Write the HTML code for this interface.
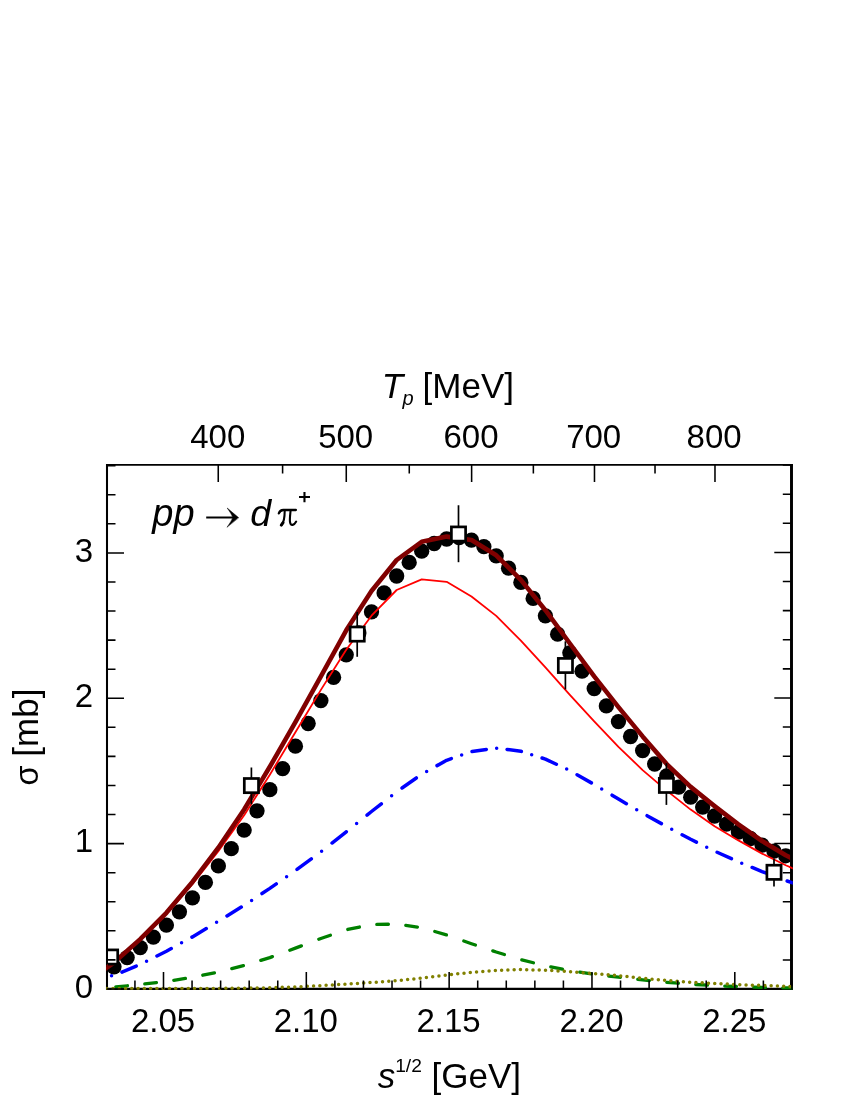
<!DOCTYPE html>
<html><head><meta charset="utf-8"><title>chart</title><style>html,body{margin:0;padding:0;background:#fff}svg{display:block}</style></head><body>
<svg width="850" height="1100" viewBox="0 0 850 1100">
<rect width="850" height="1100" fill="#fff"/>
<defs><clipPath id="c1"><rect x="106.2" y="430" width="684.1999999999999" height="559.2"/></clipPath><clipPath id="c2"><rect x="106.2" y="430" width="686.5999999999999" height="559.8"/></clipPath><clipPath id="c3"><rect x="108.0" y="430" width="682.3" height="559"/></clipPath></defs>
<path d="M107.0,464.0V990.0" stroke="#000" stroke-width="2.05" fill="none"/><path d="M791.5,464.0V990.0" stroke="#000" stroke-width="2.65" fill="none"/><path d="M106.0,464.9H792.7" stroke="#000" stroke-width="1.8" fill="none"/><path d="M106.0,988.9H792.7" stroke="#000" stroke-width="2.2" fill="none"/>
<path d="M791.5,989.13h-17.2M791.5,960.02h-8.7M791.5,930.90h-8.7M791.5,901.79h-8.7M791.5,872.67h-8.7M791.5,843.55h-17.2M791.5,814.44h-8.7M791.5,785.32h-8.7M791.5,756.21h-8.7M791.5,727.09h-8.7M791.5,697.98h-17.2M791.5,668.86h-8.7M791.5,639.75h-8.7M791.5,610.63h-8.7M791.5,581.52h-8.7M791.5,552.40h-17.2M791.5,523.29h-8.7M791.5,494.17h-8.7M791.5,465.05h-8.7M218.25,464.9v17M282.60,464.9v8.5M346.27,464.9v17M409.27,464.9v8.5M471.63,464.9v17M533.36,464.9v8.5M594.48,464.9v17M655.02,464.9v8.5M714.98,464.9v17" stroke="#000" stroke-width="1.55" fill="none"/>
<g clip-path="url(#c1)" fill="none" stroke-linejoin="round">
<g fill="#000" stroke="none">
<circle cx="113.99" cy="966.80" r="7.65"/>
<circle cx="127.14" cy="957.60" r="7.65"/>
<circle cx="140.26" cy="947.60" r="7.65"/>
<circle cx="153.34" cy="937.10" r="7.65"/>
<circle cx="166.40" cy="925.10" r="7.65"/>
<circle cx="179.43" cy="911.80" r="7.65"/>
<circle cx="192.43" cy="897.80" r="7.65"/>
<circle cx="205.40" cy="882.40" r="7.65"/>
<circle cx="218.35" cy="865.90" r="7.65"/>
<circle cx="231.26" cy="848.70" r="7.65"/>
<circle cx="244.15" cy="830.10" r="7.65"/>
<circle cx="257.00" cy="810.80" r="7.65"/>
<circle cx="269.83" cy="789.70" r="7.65"/>
<circle cx="282.64" cy="768.60" r="7.65"/>
<circle cx="295.41" cy="746.20" r="7.65"/>
<circle cx="308.16" cy="723.50" r="7.65"/>
<circle cx="320.88" cy="700.60" r="7.65"/>
<circle cx="333.58" cy="677.40" r="7.65"/>
<circle cx="346.24" cy="654.80" r="7.65"/>
<circle cx="358.88" cy="633.00" r="7.65"/>
<circle cx="371.50" cy="611.80" r="7.65"/>
<circle cx="384.08" cy="592.90" r="7.65"/>
<circle cx="396.65" cy="576.00" r="7.65"/>
<circle cx="409.18" cy="562.40" r="7.65"/>
<circle cx="421.69" cy="551.20" r="7.65"/>
<circle cx="434.18" cy="543.50" r="7.65"/>
<circle cx="446.63" cy="539.00" r="7.65"/>
<circle cx="459.07" cy="537.50" r="7.65"/>
<circle cx="471.48" cy="540.20" r="7.65"/>
<circle cx="483.86" cy="546.60" r="7.65"/>
<circle cx="496.22" cy="555.80" r="7.65"/>
<circle cx="508.55" cy="568.20" r="7.65"/>
<circle cx="520.86" cy="582.40" r="7.65"/>
<circle cx="533.14" cy="598.40" r="7.65"/>
<circle cx="545.41" cy="615.80" r="7.65"/>
<circle cx="557.64" cy="634.20" r="7.65"/>
<circle cx="569.85" cy="652.80" r="7.65"/>
<circle cx="582.04" cy="671.20" r="7.65"/>
<circle cx="594.21" cy="688.60" r="7.65"/>
<circle cx="606.35" cy="705.90" r="7.65"/>
<circle cx="618.46" cy="721.60" r="7.65"/>
<circle cx="630.56" cy="736.50" r="7.65"/>
<circle cx="642.63" cy="750.60" r="7.65"/>
<circle cx="654.68" cy="764.00" r="7.65"/>
<circle cx="666.70" cy="776.00" r="7.65"/>
<circle cx="678.70" cy="787.10" r="7.65"/>
<circle cx="690.68" cy="797.20" r="7.65"/>
<circle cx="702.64" cy="807.10" r="7.65"/>
<circle cx="714.58" cy="816.00" r="7.65"/>
<circle cx="726.49" cy="824.20" r="7.65"/>
<circle cx="738.38" cy="832.00" r="7.65"/>
<circle cx="750.25" cy="838.50" r="7.65"/>
<circle cx="762.09" cy="845.20" r="7.65"/>
<circle cx="773.92" cy="851.20" r="7.65"/>
<circle cx="785.72" cy="855.80" r="7.65"/>
</g>
<path d="M87.61,981.30L113.99,963.10L140.26,940.00L166.40,914.00L192.43,884.10L218.35,851.30L244.15,815.30L269.83,774.70L295.41,732.30L320.88,689.90L346.24,649.70L371.50,615.70L396.65,590.00L421.69,579.40L446.63,581.80L471.48,596.50L496.22,615.90L520.86,640.60L545.41,667.30L569.85,694.80L594.21,721.30L618.46,746.80L642.63,770.10L666.70,790.60L690.68,809.60L714.58,826.30L738.38,840.40L762.09,853.60L785.72,865.20L809.26,875.60" stroke="#ff0000" stroke-width="1.8"/>
<path d="M87.61,981.00L113.99,962.50L140.26,939.10L166.40,912.80L192.43,881.90L218.35,847.70L244.15,809.50L269.83,766.80L295.41,722.10L320.88,676.40L346.24,630.30L371.50,591.00L396.65,560.00L421.69,541.80L446.63,536.60L471.48,540.00L496.22,555.30L520.86,579.90L545.41,610.20L569.85,643.50L594.21,676.40L618.46,707.10L642.63,736.40L666.70,764.10L690.68,786.90L714.58,806.10L738.38,824.40L762.09,841.00L785.72,855.30L809.26,867.00" stroke="#800000" stroke-width="4.6"/>
</g>
<path d="M791.5,464.0V990.0" stroke="#000" stroke-width="2.65" fill="none"/>
<g clip-path="url(#c2)" fill="none" stroke-linejoin="round">
<path d="M789.50,866.87L795.00,869.30" stroke="#ff0000" stroke-width="1.8"/>
<path d="M86.80,988.90L87.61,988.90L98.40,988.16M115.80,986.92L127.40,985.77M144.80,983.96L156.40,982.59M173.80,980.26L185.40,978.48M202.80,975.24L214.40,972.82M231.80,968.56L243.40,965.59M260.80,960.34L269.83,957.60L272.40,956.65M289.80,950.18L295.41,948.10L301.40,945.84M318.80,939.28L320.88,938.50L330.40,935.23M347.80,929.47L359.40,927.04M376.80,924.42L388.40,924.23M405.80,925.42L417.40,927.08M434.80,931.54L446.40,934.93M463.80,941.01L471.48,943.70L475.40,945.02M492.80,950.85L496.22,952.00L504.40,954.52M521.80,959.84L533.40,962.77M550.80,966.86L562.40,969.14M579.80,972.11L591.40,973.87M608.80,976.04L618.46,977.20L620.40,977.42M637.80,979.36L642.63,979.90L649.40,980.57M666.80,982.31L678.40,983.23M695.80,984.50L707.40,985.18M724.80,986.03L736.40,986.52M753.80,987.12L762.09,987.40L765.40,987.47M782.80,987.84L785.72,987.90L794.40,987.97" stroke="#008000" stroke-width="3.3" stroke-linecap="round"/>
<path d="M106.73,988.60h0.01M113.00,988.60h0.01M119.27,988.60h0.01M125.54,988.60h0.01M131.80,988.60h0.01M138.07,988.60h0.01M144.34,988.58h0.01M150.61,988.56h0.01M156.88,988.54h0.01M163.14,988.51h0.01M169.41,988.50h0.01M175.68,988.50h0.01M181.95,988.50h0.01M188.22,988.50h0.01M194.48,988.49h0.01M200.75,988.47h0.01M207.02,988.44h0.01M213.29,988.42h0.01M219.56,988.39h0.01M225.82,988.34h0.01M232.09,988.29h0.01M238.36,988.24h0.01M244.63,988.19h0.01M250.90,988.09h0.01M257.16,988.00h0.01M263.43,987.90h0.01M269.70,987.80h0.01M275.97,987.58h0.01M282.24,987.36h0.01M288.50,987.14h0.01M294.77,986.92h0.01M301.04,986.63h0.01M307.31,986.34h0.01M313.58,986.04h0.01M319.84,985.75h0.01M326.11,985.37h0.01M332.38,984.97h0.01M338.65,984.58h0.01M344.92,984.18h0.01M351.18,983.79h0.01M357.45,983.39h0.01M363.72,982.99h0.01M369.99,982.60h0.01M376.26,982.16h0.01M382.52,981.71h0.01M388.79,981.26h0.01M395.06,980.81h0.01M401.33,980.21h0.01M407.60,979.56h0.01M413.86,978.91h0.01M420.13,978.26h0.01M426.40,977.53h0.01M432.67,976.78h0.01M438.94,976.03h0.01M445.20,975.27h0.01M451.47,974.55h0.01M457.74,973.85h0.01M464.01,973.14h0.01M470.28,972.44h0.01M476.54,971.93h0.01M482.81,971.48h0.01M489.08,971.02h0.01M495.35,970.56h0.01M501.62,970.30h0.01M507.88,970.07h0.01M514.15,969.84h0.01M520.42,969.62h0.01M526.69,969.74h0.01M532.96,969.90h0.01M539.22,970.05h0.01M545.49,970.21h0.01M551.76,970.59h0.01M558.03,970.97h0.01M564.30,971.36h0.01M570.56,971.76h0.01M576.83,972.27h0.01M583.10,972.79h0.01M589.37,973.30h0.01M595.64,973.82h0.01M601.90,974.33h0.01M608.17,974.85h0.01M614.44,975.37h0.01M620.71,975.94h0.01M626.98,976.62h0.01M633.24,977.29h0.01M639.51,977.96h0.01M645.78,978.59h0.01M652.05,979.16h0.01M658.32,979.73h0.01M664.58,980.31h0.01M670.85,980.79h0.01M677.12,981.24h0.01M683.39,981.68h0.01M689.66,982.13h0.01M695.92,982.49h0.01M702.19,982.83h0.01M708.46,983.17h0.01M714.73,983.51h0.01M721.00,983.80h0.01M727.26,984.09h0.01M733.53,984.38h0.01M739.80,984.65h0.01M746.07,984.89h0.01M752.34,985.13h0.01M758.60,985.37h0.01M764.87,985.61h0.01M771.14,985.84h0.01M777.41,986.08h0.01M783.68,986.32h0.01M789.94,986.51h0.01M796.21,986.67h0.01" stroke="#808000" stroke-width="3.5" stroke-linecap="round"/>
<path d="M76.54,978.70h0.01M86.94,978.70L87.61,978.70L101.24,976.99M111.55,975.71h0.01M121.95,972.07L136.25,966.08M146.56,961.22h0.01M156.96,955.97L166.40,951.20L171.26,948.53M181.57,942.87h0.01M191.97,937.15L192.43,936.90L206.27,928.57M216.58,922.36h0.01M226.98,915.95L241.28,907.08M251.59,900.40h0.01M261.99,893.56L269.83,888.40L276.29,883.91M286.60,876.73h0.01M297.00,869.43L311.30,858.87M321.61,851.23h0.01M332.01,843.02L346.24,831.80L346.31,831.75M356.62,823.46h0.01M367.02,815.10L371.50,811.50L381.32,803.81M391.63,795.73h0.01M402.03,788.02L416.33,777.97M426.64,771.44h0.01M437.04,765.65L446.63,760.30L451.34,758.63M461.65,754.98h0.01M472.05,751.42L486.35,749.46M496.66,748.16h0.01M507.06,749.46L520.86,751.20L521.36,751.36M531.67,754.68h0.01M542.07,758.03L545.41,759.10L556.37,764.26M566.68,769.11h0.01M577.08,774.72L591.38,782.89M601.69,788.97h0.01M612.09,795.19L618.46,799.00L626.39,803.66M636.70,809.72h0.01M647.10,815.69L661.40,823.65M671.71,829.25h0.01M682.11,834.76L690.68,839.30L696.41,842.13M706.72,847.22h0.01M717.12,852.24L731.42,858.67M741.73,863.18h0.01M752.13,867.48L762.09,871.60L766.43,873.23M776.74,877.12h0.01M787.14,880.99L801.44,885.91" stroke="#0000ff" stroke-width="3.5" stroke-linecap="round"/>
</g>
<g clip-path="url(#c3)" fill="none">
<rect x="103.50" y="949.90" width="14.2" height="14.2" fill="#fff" stroke="#000" stroke-width="2.7" stroke-linejoin="miter"/>
<path d="M251.4,767.5V804.3" stroke="#000" stroke-width="1.7"/>
<rect x="244.30" y="778.50" width="14.2" height="14.2" fill="#fff" stroke="#000" stroke-width="2.7" stroke-linejoin="miter"/>
<path d="M357.2,611.9V656.8" stroke="#000" stroke-width="1.7"/>
<rect x="350.10" y="627.00" width="14.2" height="14.2" fill="#fff" stroke="#000" stroke-width="2.7" stroke-linejoin="miter"/>
<path d="M458.5,505.2V562.2" stroke="#000" stroke-width="1.7"/>
<rect x="451.40" y="526.90" width="14.2" height="14.2" fill="#fff" stroke="#000" stroke-width="2.7" stroke-linejoin="miter"/>
<path d="M565.4,641.3V689.4" stroke="#000" stroke-width="1.7"/>
<rect x="558.30" y="658.40" width="14.2" height="14.2" fill="#fff" stroke="#000" stroke-width="2.7" stroke-linejoin="miter"/>
<path d="M666.4,763.2V804.9" stroke="#000" stroke-width="1.7"/>
<rect x="659.30" y="778.30" width="14.2" height="14.2" fill="#fff" stroke="#000" stroke-width="2.7" stroke-linejoin="miter"/>
<path d="M774.0,858.5V886.6" stroke="#000" stroke-width="1.7"/>
<rect x="766.90" y="865.20" width="14.2" height="14.2" fill="#fff" stroke="#000" stroke-width="2.7" stroke-linejoin="miter"/>
</g>
<path d="M107.0,988.95h17M107.0,959.88h8.5M107.0,930.81h8.5M107.0,901.74h8.5M107.0,872.67h8.5M107.0,843.60h17M107.0,814.53h8.5M107.0,785.46h8.5M107.0,756.39h8.5M107.0,727.32h8.5M107.0,698.25h17M107.0,669.18h8.5M107.0,640.11h8.5M107.0,611.04h8.5M107.0,581.97h8.5M107.0,552.90h17M107.0,523.83h8.5M107.0,494.76h8.5M107.0,465.69h8.5M134.94,988.9v-8.5M163.50,988.9v-17M192.06,988.9v-8.5M220.63,988.9v-8.5M249.19,988.9v-8.5M277.76,988.9v-8.5M306.32,988.9v-17M334.89,988.9v-8.5M363.45,988.9v-8.5M392.02,988.9v-8.5M420.58,988.9v-8.5M449.15,988.9v-17M477.71,988.9v-8.5M506.28,988.9v-8.5M534.85,988.9v-8.5M563.41,988.9v-8.5M591.97,988.9v-17M620.54,988.9v-8.5M649.11,988.9v-8.5M677.67,988.9v-8.5M706.23,988.9v-8.5M734.80,988.9v-17M763.37,988.9v-8.5M791.93,988.9v-8.5" stroke="#000" stroke-width="1.55" fill="none"/>
<g font-family="'Liberation Sans', sans-serif" fill="#000" opacity="0.999">
<text x="217.8" y="448.3" font-size="33" text-anchor="middle">400</text>
<text x="345.7" y="448.3" font-size="33" text-anchor="middle">500</text>
<text x="471.0" y="448.3" font-size="33" text-anchor="middle">600</text>
<text x="593.7" y="448.3" font-size="33" text-anchor="middle">700</text>
<text x="714.1" y="448.3" font-size="33" text-anchor="middle">800</text>
<text x="163.0" y="1032.2" font-size="33" text-anchor="middle">2.05</text>
<text x="305.8" y="1032.2" font-size="33" text-anchor="middle">2.10</text>
<text x="448.6" y="1032.2" font-size="33" text-anchor="middle">2.15</text>
<text x="591.5" y="1032.2" font-size="33" text-anchor="middle">2.20</text>
<text x="734.3" y="1032.2" font-size="33" text-anchor="middle">2.25</text>
<text x="93" y="997.6" font-size="33" text-anchor="end">0</text>
<text x="93" y="852.2" font-size="33" text-anchor="end">1</text>
<text x="93" y="706.9" font-size="33" text-anchor="end">2</text>
<text x="93" y="561.5" font-size="33" text-anchor="end">3</text>
<text x="381.7" y="397.5" font-size="35" font-style="italic">T</text>
<text x="402.5" y="405.0" font-size="20" font-style="italic">p</text>
<text x="422.6" y="397.7" font-size="35">[MeV]</text>
<text x="377.8" y="1087.6" font-size="35" font-style="italic">s</text>
<text x="395.2" y="1071.6" font-size="19.2">1/2</text>
<text x="431.5" y="1087.6" font-size="35">[GeV]</text>
<text transform="translate(38.0,785.4) rotate(-90)" font-size="32.5">σ</text>
<text transform="translate(38.0,756.7) rotate(-90)" font-size="35">[mb]</text>
<text x="152.3" y="525.6" font-size="38" font-style="italic">pp</text>
<text x="250.3" y="525.6" font-size="37.5" font-style="italic">d</text>
<g fill="none" stroke="#000" stroke-linecap="round" stroke-linejoin="round">
<path d="M278.82,513.35Q280.12,510.00 283.24,510.00H295.88" stroke-width="2.3"/>
<path d="M284.71,510.41C284.71,517.94 283.65,522.65 281.47,525.00" stroke-width="2.1"/>
<path d="M283.06,522.65L281.29,525.12" stroke-width="3.0"/>
<path d="M290.59,510.41C289.88,517.94 288.71,525.29 292.65,524.88Q294.71,524.41 296.18,521.59" stroke-width="2.1"/>
<path d="M299.00,497.06H310.00M304.47,491.94V502.18" stroke-width="2.1" stroke-linecap="butt"/>
<path d="M206.2,517.5H233.5" stroke-width="2.0" stroke-linecap="butt"/>
<path d="M238.5,517.5L227.2,508.0Q231.6,514 232.8,517.5Q231.6,521 227.2,527.0Z" fill="#000" stroke="#000" stroke-width="0.5" stroke-linejoin="miter"/>
</g>
</g>
</svg>
</body></html>
